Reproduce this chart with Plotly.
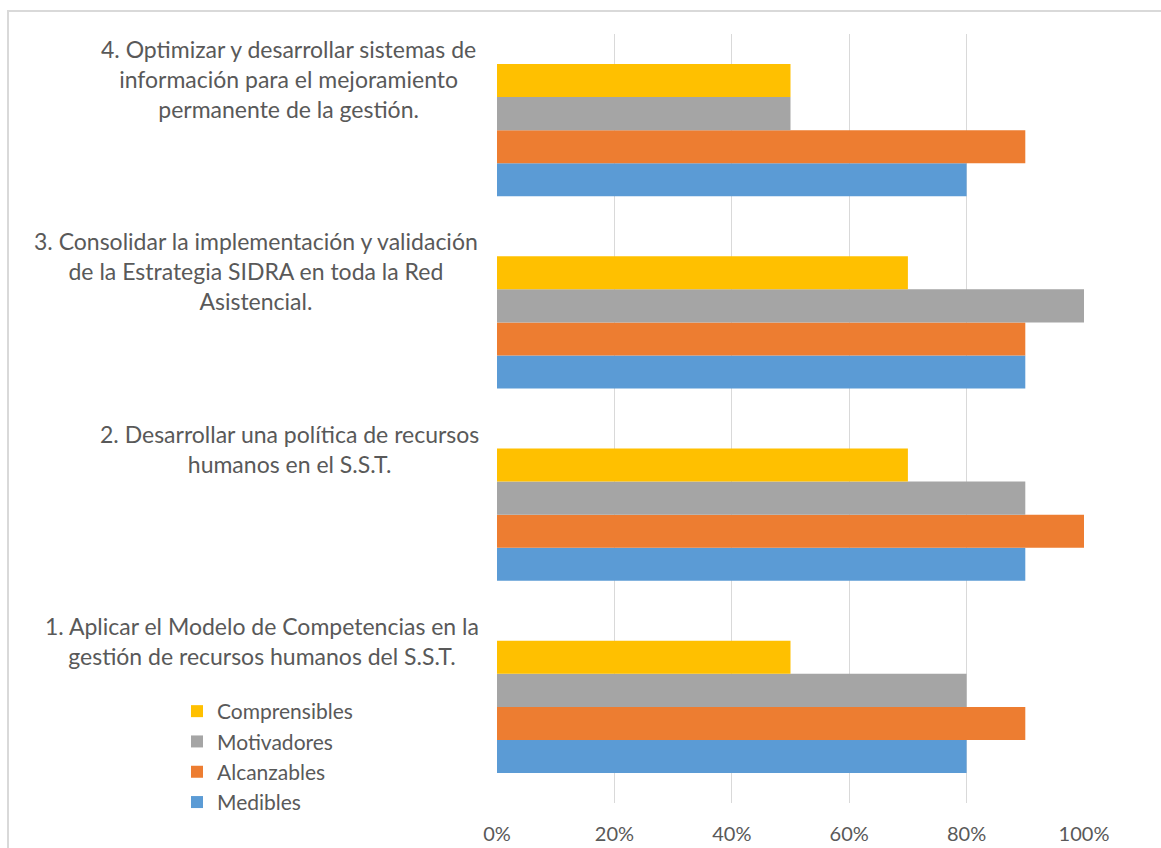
import plotly.graph_objects as go

# Objetivos (de abajo hacia arriba) y porcentaje por criterio
categorias = [
    "1. Aplicar el Modelo de Competencias en la<br>gestión de recursos humanos del S.S.T.",
    "2. Desarrollar una política de recursos<br>humanos en el S.S.T.",
    "3. Consolidar la implementación y validación<br>de la Estrategia SIDRA en toda la Red<br>Asistencial.",
    "4. Optimizar y desarrollar sistemas de<br>información para el mejoramiento<br>permanente de la gestión.",
]
medibles = [0.8, 0.9, 0.9, 0.8]
alcanzables = [0.9, 1.0, 0.9, 0.9]
motivadores = [0.8, 0.9, 1.0, 0.5]
comprensibles = [0.5, 0.7, 0.7, 0.5]

series = [
    ("Medibles", medibles, "#5B9BD5"),
    ("Alcanzables", alcanzables, "#ED7D31"),
    ("Motivadores", motivadores, "#A5A5A5"),
    ("Comprensibles", comprensibles, "#FFC000"),
]

W, H = 1161, 848
ML, MR, MT, MB = 497, 77, 34, 45
FONT = "Lato"
TXT = "#595959"

fig = go.Figure()
ids = list(range(len(categorias)))
for nombre, vals, color in series:
    fig.add_trace(go.Bar(
        y=ids, x=vals, name=nombre, orientation="h",
        marker=dict(color=color, line=dict(width=0)),
    ))

# Etiquetas de categoría a la izquierda, encima de cada grupo de barras
centros_px = [262, 289, 256, 288]
pw = W - ML - MR
annotations = []
for i, txt in enumerate(categorias):
    annotations.append(dict(
        text=txt, xref="paper", yref="y",
        x=(centros_px[i] - ML) / pw, y=i,
        xanchor="center", yanchor="top", yshift=97,
        align="center", showarrow=False,
        font=dict(family=FONT, size=23, color=TXT),
    ))

def px_x(p):
    return (p - ML) / pw

ph = H - MT - MB
def px_y(p):
    return (H - MB - p) / ph

fig.update_layout(
    width=W, height=H,
    margin=dict(l=ML, r=MR, t=MT, b=MB, autoexpand=False),
    paper_bgcolor="white", plot_bgcolor="white",
    barmode="group", bargap=0.3125, bargroupgap=0,
    font=dict(family=FONT, size=21, color=TXT),
    xaxis=dict(
        range=[0, 1], tickvals=[0, 0.2, 0.4, 0.6, 0.8, 1.0],
        tickformat=".0%", showgrid=True, gridcolor="#D9D9D9", gridwidth=1,
        zeroline=False, showline=False, automargin=False,
        ticks="outside", ticklen=13, tickcolor="rgba(0,0,0,0)",
        tickfont=dict(family=FONT, size=20, color=TXT),
    ),
    yaxis=dict(
        range=[-0.5, 3.5], showticklabels=False, showgrid=False,
        zeroline=False, showline=False, ticks="", automargin=False,
    ),
    showlegend=True,
    legend=dict(
        traceorder="reversed", x=px_x(177), y=px_y(691),
        xanchor="left", yanchor="top", bgcolor="rgba(0,0,0,0)",
        font=dict(family=FONT, size=21, color=TXT),
        tracegroupgap=0, itemclick=False,
    ),
    annotations=annotations,
    shapes=[dict(
        type="rect", xref="paper", yref="paper",
        x0=px_x(8), x1=px_x(1175), y0=px_y(870), y1=px_y(11),
        line=dict(color="#D9D9D9", width=2), fillcolor="rgba(0,0,0,0)",
        layer="below",
    )],
)

fig.write_html("out.html")
